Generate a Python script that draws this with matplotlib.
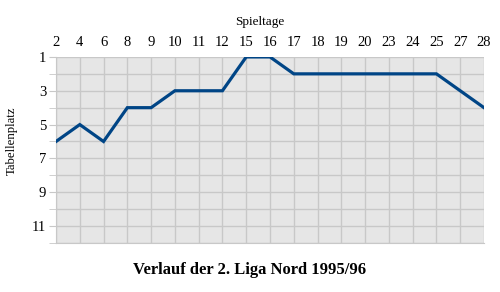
import numpy as np
import matplotlib.pyplot as plt

plt.rcParams['font.family'] = ['Liberation Serif', 'DejaVu Serif']

spieltage = ['2', '4', '6', '8', '9', '10', '11', '12', '15', '16', '17',
             '18', '19', '20', '23', '24', '25', '27', '28']
platz = [6, 5, 6, 4, 4, 3, 3, 3, 1, 1, 2, 2, 2, 2, 2, 2, 2, 3, 4]

fig = plt.figure(figsize=(5, 2.92), dpi=100)
ax = fig.add_axes([0.112, 0.168, 0.856, 0.637])
x = np.arange(len(spieltage))

ax.set_facecolor('#e6e6e6')
ax.plot(x, platz, color='#004586', lw=2.3, solid_joinstyle='miter', zorder=3)

ax.set_xlim(0, len(spieltage) - 1)
ax.set_ylim(12, 1)
ax.set_xticks(x)
ax.set_xticklabels(spieltage)
ax.set_yticks(np.arange(1, 13), minor=True)
ax.set_yticks([1, 3, 5, 7, 9, 11])
ax.xaxis.tick_top()
ax.xaxis.set_label_position('top')
ax.grid(True, which='both', color='#c8c8c8', lw=1)
ax.tick_params(which='both', length=5, color='#c8c8c8', labelsize=10.5, pad=2)
ax.tick_params(axis='x', length=0, pad=6)
for s in ax.spines.values():
    s.set_color('#c8c8c8')
ax.spines['top'].set_visible(False)
ax.spines['right'].set_visible(False)

ax.set_xlabel('Spieltage', fontsize=9.5)
ax.xaxis.set_label_coords(0.477, 1.17)
ax.set_ylabel('Tabellenplatz', fontsize=9.2)
ax.yaxis.set_label_coords(-0.09, 0.55)
fig.text(0.5, 0.075, 'Verlauf der 2. Liga Nord 1995/96', ha='center',
         va='center', fontsize=12, fontweight='bold')

fig.savefig('out.png', dpi=100)
